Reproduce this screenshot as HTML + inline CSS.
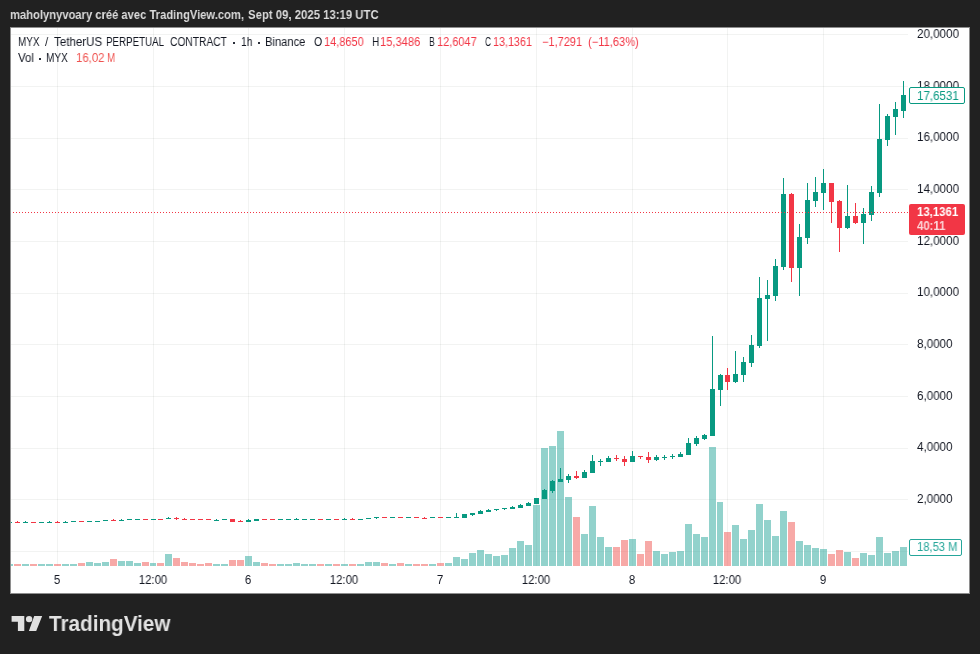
<!DOCTYPE html>
<html><head><meta charset="utf-8"><title>MYX chart</title>
<style>
html,body{margin:0;padding:0}
.hd,.pl,.tl,.lg,#pcur div,#plast div,#pvol div,#logot{will-change:transform}
body{width:980px;height:654px;background:#212121;position:relative;overflow:hidden;font-family:"Liberation Sans",sans-serif;}
.hd{position:absolute;height:16px;line-height:16px;font-size:13px;font-weight:bold;color:#dcdcdc;white-space:nowrap;transform-origin:0 50%;}
#card{position:absolute;left:10px;top:27px;width:960px;height:567px;background:#fff;overflow:hidden;box-sizing:border-box;border:1px solid #8e8e8e}
#chart{position:absolute;left:0;top:0}
.pl{transform:scaleX(0.968);transform-origin:0 50%;position:absolute;left:917px;width:60px;height:14px;line-height:14px;font-size:12px;color:#131722;white-space:nowrap}
.tl{transform:scaleX(0.95);position:absolute;top:573px;width:60px;text-align:center;height:14px;line-height:14px;font-size:12px;color:#131722;white-space:nowrap}
.lg{position:absolute;height:16px;line-height:16px;font-size:12px;color:#131722;white-space:nowrap;transform-origin:0 50%}
.dot{position:absolute;width:2px;height:2px;background:#2a2e39}
.r{color:#F23645}
.r2{color:#ef5350}
#pcur{position:absolute;left:909px;top:204px;width:56px;height:31px;background:#F23645;border-radius:2px;color:#fff;font-size:12px;font-weight:bold}
#pcur div{transform:scaleX(0.95);transform-origin:0 50%;position:absolute;left:8px;height:14px;line-height:14px;white-space:nowrap}
#plast{position:absolute;left:909px;top:87px;width:54px;height:15px;border:1px solid #089981;border-radius:2px;background:#fff;color:#089981;font-size:12px;line-height:15px}
#plast div{transform:scaleX(0.962);transform-origin:0 50%;position:absolute;left:7px;top:0.5px;white-space:nowrap}
#pvol{position:absolute;left:909px;top:539px;width:51px;height:15px;border:1px solid #26a69a;border-radius:2px;background:#fff;color:#26a69a;font-size:12px;line-height:15px}
#pvol div{transform:scaleX(0.935);transform-origin:0 50%;position:absolute;left:7px;top:0;white-space:nowrap}
#logo{position:absolute;left:0;top:0}
#logot{transform:scaleX(0.962);position:absolute;left:48.7px;top:611px;font-size:21.5px;font-weight:bold;color:#e2e2e2;line-height:26px;height:26px;white-space:nowrap;transform-origin:0 50%}
</style></head><body>
<div id="card"></div>
<svg id="chart" width="980" height="654" viewBox="0 0 980 654" shape-rendering="crispEdges">
<defs><clipPath id="cp"><rect x="11" y="28" width="897" height="538"/></clipPath></defs>
<g clip-path="url(#cp)">
<rect x="11" y="34" width="897" height="1" fill="rgba(40,56,52,0.062)"/>
<rect x="11" y="86" width="897" height="1" fill="rgba(40,56,52,0.062)"/>
<rect x="11" y="138" width="897" height="1" fill="rgba(40,56,52,0.062)"/>
<rect x="11" y="189" width="897" height="1" fill="rgba(40,56,52,0.062)"/>
<rect x="11" y="241" width="897" height="1" fill="rgba(40,56,52,0.062)"/>
<rect x="11" y="293" width="897" height="1" fill="rgba(40,56,52,0.062)"/>
<rect x="11" y="344" width="897" height="1" fill="rgba(40,56,52,0.062)"/>
<rect x="11" y="396" width="897" height="1" fill="rgba(40,56,52,0.062)"/>
<rect x="11" y="448" width="897" height="1" fill="rgba(40,56,52,0.062)"/>
<rect x="11" y="499" width="897" height="1" fill="rgba(40,56,52,0.062)"/>
<rect x="11" y="551" width="897" height="1" fill="rgba(40,56,52,0.062)"/>
<rect x="57" y="28" width="1" height="538" fill="rgba(40,56,52,0.062)"/>
<rect x="153" y="28" width="1" height="538" fill="rgba(40,56,52,0.062)"/>
<rect x="248" y="28" width="1" height="538" fill="rgba(40,56,52,0.062)"/>
<rect x="344" y="28" width="1" height="538" fill="rgba(40,56,52,0.062)"/>
<rect x="440" y="28" width="1" height="538" fill="rgba(40,56,52,0.062)"/>
<rect x="536" y="28" width="1" height="538" fill="rgba(40,56,52,0.062)"/>
<rect x="632" y="28" width="1" height="538" fill="rgba(40,56,52,0.062)"/>
<rect x="727" y="28" width="1" height="538" fill="rgba(40,56,52,0.062)"/>
<rect x="823" y="28" width="1" height="538" fill="rgba(40,56,52,0.062)"/>
<rect x="6" y="564" width="7" height="2" fill="rgba(38,166,154,0.5)"/>
<rect x="14" y="564" width="7" height="2" fill="rgba(239,83,80,0.5)"/>
<rect x="22" y="564" width="7" height="2" fill="rgba(38,166,154,0.5)"/>
<rect x="30" y="564" width="7" height="2" fill="rgba(239,83,80,0.5)"/>
<rect x="38" y="564" width="7" height="2" fill="rgba(38,166,154,0.5)"/>
<rect x="46" y="564" width="7" height="2" fill="rgba(38,166,154,0.5)"/>
<rect x="54" y="564" width="7" height="2" fill="rgba(239,83,80,0.5)"/>
<rect x="62" y="564" width="7" height="2" fill="rgba(38,166,154,0.5)"/>
<rect x="70" y="564" width="7" height="2" fill="rgba(38,166,154,0.5)"/>
<rect x="78" y="563" width="7" height="3" fill="rgba(239,83,80,0.5)"/>
<rect x="86" y="562" width="7" height="4" fill="rgba(38,166,154,0.5)"/>
<rect x="94" y="563" width="7" height="3" fill="rgba(38,166,154,0.5)"/>
<rect x="102" y="562" width="7" height="4" fill="rgba(38,166,154,0.5)"/>
<rect x="110" y="559" width="7" height="7" fill="rgba(239,83,80,0.5)"/>
<rect x="118" y="561" width="7" height="5" fill="rgba(38,166,154,0.5)"/>
<rect x="126" y="561" width="7" height="5" fill="rgba(38,166,154,0.5)"/>
<rect x="134" y="563" width="7" height="3" fill="rgba(38,166,154,0.5)"/>
<rect x="142" y="562" width="7" height="4" fill="rgba(239,83,80,0.5)"/>
<rect x="150" y="563" width="6" height="3" fill="rgba(38,166,154,0.5)"/>
<rect x="157" y="563" width="7" height="3" fill="rgba(239,83,80,0.5)"/>
<rect x="165" y="554" width="7" height="12" fill="rgba(38,166,154,0.5)"/>
<rect x="173" y="558" width="7" height="8" fill="rgba(239,83,80,0.5)"/>
<rect x="181" y="562" width="7" height="4" fill="rgba(239,83,80,0.5)"/>
<rect x="189" y="563" width="7" height="3" fill="rgba(239,83,80,0.5)"/>
<rect x="197" y="564" width="7" height="2" fill="rgba(239,83,80,0.5)"/>
<rect x="205" y="563" width="7" height="3" fill="rgba(239,83,80,0.5)"/>
<rect x="213" y="564" width="7" height="2" fill="rgba(38,166,154,0.5)"/>
<rect x="221" y="564" width="7" height="2" fill="rgba(38,166,154,0.5)"/>
<rect x="229" y="560" width="7" height="6" fill="rgba(239,83,80,0.5)"/>
<rect x="237" y="560" width="7" height="6" fill="rgba(239,83,80,0.5)"/>
<rect x="245" y="556" width="7" height="10" fill="rgba(38,166,154,0.5)"/>
<rect x="253" y="562" width="7" height="4" fill="rgba(38,166,154,0.5)"/>
<rect x="261" y="563" width="7" height="3" fill="rgba(239,83,80,0.5)"/>
<rect x="269" y="564" width="7" height="2" fill="rgba(239,83,80,0.5)"/>
<rect x="277" y="564" width="7" height="2" fill="rgba(38,166,154,0.5)"/>
<rect x="285" y="564" width="7" height="2" fill="rgba(38,166,154,0.5)"/>
<rect x="293" y="563" width="7" height="3" fill="rgba(38,166,154,0.5)"/>
<rect x="301" y="564" width="7" height="2" fill="rgba(38,166,154,0.5)"/>
<rect x="309" y="564" width="7" height="2" fill="rgba(38,166,154,0.5)"/>
<rect x="317" y="564" width="7" height="2" fill="rgba(239,83,80,0.5)"/>
<rect x="325" y="564" width="7" height="2" fill="rgba(38,166,154,0.5)"/>
<rect x="333" y="564" width="7" height="2" fill="rgba(239,83,80,0.5)"/>
<rect x="341" y="564" width="7" height="2" fill="rgba(38,166,154,0.5)"/>
<rect x="349" y="564" width="7" height="2" fill="rgba(239,83,80,0.5)"/>
<rect x="357" y="564" width="7" height="2" fill="rgba(38,166,154,0.5)"/>
<rect x="365" y="562" width="7" height="4" fill="rgba(38,166,154,0.5)"/>
<rect x="373" y="562" width="7" height="4" fill="rgba(38,166,154,0.5)"/>
<rect x="381" y="563" width="7" height="3" fill="rgba(239,83,80,0.5)"/>
<rect x="389" y="564" width="7" height="2" fill="rgba(38,166,154,0.5)"/>
<rect x="397" y="563" width="7" height="3" fill="rgba(239,83,80,0.5)"/>
<rect x="405" y="564" width="7" height="2" fill="rgba(38,166,154,0.5)"/>
<rect x="413" y="564" width="7" height="2" fill="rgba(239,83,80,0.5)"/>
<rect x="421" y="564" width="7" height="2" fill="rgba(239,83,80,0.5)"/>
<rect x="429" y="564" width="7" height="2" fill="rgba(38,166,154,0.5)"/>
<rect x="437" y="563" width="7" height="3" fill="rgba(239,83,80,0.5)"/>
<rect x="445" y="563" width="7" height="3" fill="rgba(38,166,154,0.5)"/>
<rect x="453" y="557" width="7" height="9" fill="rgba(38,166,154,0.5)"/>
<rect x="461" y="559" width="7" height="7" fill="rgba(38,166,154,0.5)"/>
<rect x="469" y="553" width="7" height="13" fill="rgba(38,166,154,0.5)"/>
<rect x="477" y="550" width="7" height="16" fill="rgba(38,166,154,0.5)"/>
<rect x="485" y="554" width="7" height="12" fill="rgba(38,166,154,0.5)"/>
<rect x="493" y="556" width="7" height="10" fill="rgba(38,166,154,0.5)"/>
<rect x="501" y="555" width="7" height="11" fill="rgba(38,166,154,0.5)"/>
<rect x="509" y="548" width="7" height="18" fill="rgba(38,166,154,0.5)"/>
<rect x="517" y="541" width="7" height="25" fill="rgba(38,166,154,0.5)"/>
<rect x="525" y="545" width="7" height="21" fill="rgba(38,166,154,0.5)"/>
<rect x="533" y="505" width="7" height="61" fill="rgba(38,166,154,0.5)"/>
<rect x="541" y="448" width="7" height="118" fill="rgba(38,166,154,0.5)"/>
<rect x="549" y="446" width="7" height="120" fill="rgba(38,166,154,0.5)"/>
<rect x="557" y="431" width="7" height="135" fill="rgba(38,166,154,0.5)"/>
<rect x="565" y="497" width="7" height="69" fill="rgba(38,166,154,0.5)"/>
<rect x="573" y="517" width="7" height="49" fill="rgba(239,83,80,0.5)"/>
<rect x="581" y="534" width="7" height="32" fill="rgba(38,166,154,0.5)"/>
<rect x="589" y="506" width="7" height="60" fill="rgba(38,166,154,0.5)"/>
<rect x="597" y="537" width="7" height="29" fill="rgba(38,166,154,0.5)"/>
<rect x="605" y="547" width="7" height="19" fill="rgba(38,166,154,0.5)"/>
<rect x="613" y="547" width="7" height="19" fill="rgba(239,83,80,0.5)"/>
<rect x="621" y="540" width="7" height="26" fill="rgba(239,83,80,0.5)"/>
<rect x="629" y="539" width="7" height="27" fill="rgba(38,166,154,0.5)"/>
<rect x="637" y="554" width="7" height="12" fill="rgba(239,83,80,0.5)"/>
<rect x="645" y="541" width="7" height="25" fill="rgba(239,83,80,0.5)"/>
<rect x="653" y="551" width="7" height="15" fill="rgba(38,166,154,0.5)"/>
<rect x="661" y="554" width="7" height="12" fill="rgba(38,166,154,0.5)"/>
<rect x="669" y="552" width="7" height="14" fill="rgba(38,166,154,0.5)"/>
<rect x="677" y="551" width="7" height="15" fill="rgba(38,166,154,0.5)"/>
<rect x="685" y="524" width="7" height="42" fill="rgba(38,166,154,0.5)"/>
<rect x="693" y="534" width="7" height="32" fill="rgba(38,166,154,0.5)"/>
<rect x="701" y="537" width="7" height="29" fill="rgba(38,166,154,0.5)"/>
<rect x="709" y="447" width="7" height="119" fill="rgba(38,166,154,0.5)"/>
<rect x="717" y="502" width="6" height="64" fill="rgba(38,166,154,0.5)"/>
<rect x="724" y="532" width="7" height="34" fill="rgba(239,83,80,0.5)"/>
<rect x="732" y="525" width="7" height="41" fill="rgba(38,166,154,0.5)"/>
<rect x="740" y="539" width="7" height="27" fill="rgba(38,166,154,0.5)"/>
<rect x="748" y="530" width="7" height="36" fill="rgba(38,166,154,0.5)"/>
<rect x="756" y="504" width="7" height="62" fill="rgba(38,166,154,0.5)"/>
<rect x="764" y="520" width="7" height="46" fill="rgba(38,166,154,0.5)"/>
<rect x="772" y="536" width="7" height="30" fill="rgba(38,166,154,0.5)"/>
<rect x="780" y="511" width="7" height="55" fill="rgba(38,166,154,0.5)"/>
<rect x="788" y="522" width="7" height="44" fill="rgba(239,83,80,0.5)"/>
<rect x="796" y="541" width="7" height="25" fill="rgba(38,166,154,0.5)"/>
<rect x="804" y="545" width="7" height="21" fill="rgba(38,166,154,0.5)"/>
<rect x="812" y="548" width="7" height="18" fill="rgba(38,166,154,0.5)"/>
<rect x="820" y="549" width="7" height="17" fill="rgba(38,166,154,0.5)"/>
<rect x="828" y="554" width="7" height="12" fill="rgba(239,83,80,0.5)"/>
<rect x="836" y="550" width="7" height="16" fill="rgba(239,83,80,0.5)"/>
<rect x="844" y="552" width="7" height="14" fill="rgba(38,166,154,0.5)"/>
<rect x="852" y="558" width="7" height="8" fill="rgba(239,83,80,0.5)"/>
<rect x="860" y="553" width="7" height="13" fill="rgba(38,166,154,0.5)"/>
<rect x="868" y="555" width="7" height="11" fill="rgba(38,166,154,0.5)"/>
<rect x="876" y="537" width="7" height="29" fill="rgba(38,166,154,0.5)"/>
<rect x="884" y="553" width="7" height="13" fill="rgba(38,166,154,0.5)"/>
<rect x="892" y="551" width="7" height="15" fill="rgba(38,166,154,0.5)"/>
<rect x="900" y="547" width="7" height="19" fill="rgba(38,166,154,0.5)"/>
<rect x="7" y="522" width="5" height="1" fill="#089981"/>
<rect x="17" y="521" width="1" height="2" fill="#F23645"/>
<rect x="15" y="522" width="5" height="1" fill="#F23645"/>
<rect x="25" y="521" width="1" height="2" fill="#089981"/>
<rect x="23" y="522" width="5" height="1" fill="#089981"/>
<rect x="31" y="522" width="5" height="1" fill="#F23645"/>
<rect x="39" y="522" width="5" height="1" fill="#089981"/>
<rect x="49" y="521" width="1" height="2" fill="#089981"/>
<rect x="47" y="522" width="5" height="1" fill="#089981"/>
<rect x="57" y="521" width="1" height="2" fill="#F23645"/>
<rect x="55" y="522" width="5" height="1" fill="#F23645"/>
<rect x="65" y="521" width="1" height="2" fill="#089981"/>
<rect x="63" y="522" width="5" height="1" fill="#089981"/>
<rect x="71" y="521" width="5" height="1" fill="#089981"/>
<rect x="79" y="521" width="5" height="1" fill="#F23645"/>
<rect x="87" y="521" width="5" height="1" fill="#089981"/>
<rect x="95" y="521" width="5" height="1" fill="#089981"/>
<rect x="103" y="520" width="5" height="1" fill="#089981"/>
<rect x="113" y="519" width="1" height="2" fill="#F23645"/>
<rect x="111" y="520" width="5" height="1" fill="#F23645"/>
<rect x="121" y="519" width="1" height="2" fill="#089981"/>
<rect x="119" y="520" width="5" height="1" fill="#089981"/>
<rect x="127" y="519" width="5" height="1" fill="#089981"/>
<rect x="135" y="519" width="5" height="1" fill="#089981"/>
<rect x="143" y="519" width="5" height="1" fill="#F23645"/>
<rect x="151" y="519" width="5" height="1" fill="#089981"/>
<rect x="158" y="519" width="5" height="1" fill="#F23645"/>
<rect x="168" y="517" width="1" height="2" fill="#089981"/>
<rect x="166" y="518" width="5" height="1" fill="#089981"/>
<rect x="176" y="517" width="1" height="3" fill="#F23645"/>
<rect x="174" y="518" width="5" height="1" fill="#F23645"/>
<rect x="184" y="518" width="1" height="2" fill="#F23645"/>
<rect x="182" y="519" width="5" height="1" fill="#F23645"/>
<rect x="190" y="519" width="5" height="1" fill="#F23645"/>
<rect x="198" y="519" width="5" height="1" fill="#F23645"/>
<rect x="206" y="519" width="5" height="1" fill="#F23645"/>
<rect x="216" y="519" width="1" height="2" fill="#089981"/>
<rect x="214" y="520" width="5" height="1" fill="#089981"/>
<rect x="222" y="519" width="5" height="1" fill="#089981"/>
<rect x="230" y="519" width="5" height="3" fill="#F23645"/>
<rect x="240" y="520" width="1" height="2" fill="#F23645"/>
<rect x="238" y="521" width="5" height="1" fill="#F23645"/>
<rect x="248" y="519" width="1" height="3" fill="#089981"/>
<rect x="246" y="520" width="5" height="2" fill="#089981"/>
<rect x="254" y="519" width="5" height="2" fill="#089981"/>
<rect x="262" y="519" width="5" height="1" fill="#F23645"/>
<rect x="270" y="519" width="5" height="1" fill="#F23645"/>
<rect x="278" y="519" width="5" height="1" fill="#089981"/>
<rect x="286" y="519" width="5" height="1" fill="#089981"/>
<rect x="296" y="518" width="1" height="2" fill="#089981"/>
<rect x="294" y="519" width="5" height="1" fill="#089981"/>
<rect x="302" y="519" width="5" height="1" fill="#089981"/>
<rect x="310" y="519" width="5" height="1" fill="#089981"/>
<rect x="318" y="519" width="5" height="1" fill="#F23645"/>
<rect x="326" y="519" width="5" height="1" fill="#089981"/>
<rect x="334" y="519" width="5" height="1" fill="#F23645"/>
<rect x="344" y="518" width="1" height="2" fill="#089981"/>
<rect x="342" y="519" width="5" height="1" fill="#089981"/>
<rect x="352" y="518" width="1" height="2" fill="#F23645"/>
<rect x="350" y="519" width="5" height="1" fill="#F23645"/>
<rect x="358" y="519" width="5" height="1" fill="#089981"/>
<rect x="366" y="518" width="5" height="1" fill="#089981"/>
<rect x="376" y="517" width="1" height="2" fill="#089981"/>
<rect x="374" y="517" width="5" height="1" fill="#089981"/>
<rect x="382" y="517" width="5" height="1" fill="#F23645"/>
<rect x="390" y="517" width="5" height="1" fill="#089981"/>
<rect x="398" y="517" width="5" height="1" fill="#F23645"/>
<rect x="406" y="517" width="5" height="1" fill="#089981"/>
<rect x="414" y="517" width="5" height="1" fill="#F23645"/>
<rect x="424" y="517" width="1" height="2" fill="#F23645"/>
<rect x="422" y="518" width="5" height="1" fill="#F23645"/>
<rect x="430" y="517" width="5" height="1" fill="#089981"/>
<rect x="438" y="517" width="5" height="1" fill="#F23645"/>
<rect x="446" y="517" width="5" height="1" fill="#089981"/>
<rect x="456" y="513" width="1" height="5" fill="#089981"/>
<rect x="454" y="517" width="5" height="1" fill="#089981"/>
<rect x="462" y="514" width="5" height="4" fill="#089981"/>
<rect x="472" y="513" width="1" height="3" fill="#089981"/>
<rect x="470" y="513" width="5" height="2" fill="#089981"/>
<rect x="480" y="510" width="1" height="4" fill="#089981"/>
<rect x="478" y="511" width="5" height="3" fill="#089981"/>
<rect x="488" y="509" width="1" height="3" fill="#089981"/>
<rect x="486" y="510" width="5" height="2" fill="#089981"/>
<rect x="496" y="509" width="1" height="2" fill="#089981"/>
<rect x="494" y="509" width="5" height="1" fill="#089981"/>
<rect x="504" y="508" width="1" height="2" fill="#089981"/>
<rect x="502" y="508" width="5" height="1" fill="#089981"/>
<rect x="512" y="506" width="1" height="3" fill="#089981"/>
<rect x="510" y="507" width="5" height="2" fill="#089981"/>
<rect x="520" y="504" width="1" height="4" fill="#089981"/>
<rect x="518" y="505" width="5" height="3" fill="#089981"/>
<rect x="528" y="502" width="1" height="4" fill="#089981"/>
<rect x="526" y="503" width="5" height="3" fill="#089981"/>
<rect x="534" y="498" width="5" height="6" fill="#089981"/>
<rect x="544" y="489" width="1" height="10" fill="#089981"/>
<rect x="542" y="490" width="5" height="9" fill="#089981"/>
<rect x="552" y="480" width="1" height="13" fill="#089981"/>
<rect x="550" y="481" width="5" height="10" fill="#089981"/>
<rect x="560" y="468" width="1" height="14" fill="#089981"/>
<rect x="558" y="479" width="5" height="3" fill="#089981"/>
<rect x="568" y="474" width="1" height="9" fill="#089981"/>
<rect x="566" y="476" width="5" height="4" fill="#089981"/>
<rect x="576" y="471" width="1" height="8" fill="#F23645"/>
<rect x="574" y="476" width="5" height="2" fill="#F23645"/>
<rect x="584" y="470" width="1" height="8" fill="#089981"/>
<rect x="582" y="472" width="5" height="6" fill="#089981"/>
<rect x="592" y="455" width="1" height="18" fill="#089981"/>
<rect x="590" y="461" width="5" height="12" fill="#089981"/>
<rect x="600" y="459" width="1" height="7" fill="#089981"/>
<rect x="598" y="461" width="5" height="1" fill="#089981"/>
<rect x="608" y="456" width="1" height="6" fill="#089981"/>
<rect x="606" y="458" width="5" height="4" fill="#089981"/>
<rect x="616" y="455" width="1" height="6" fill="#F23645"/>
<rect x="614" y="458" width="5" height="1" fill="#F23645"/>
<rect x="624" y="456" width="1" height="10" fill="#F23645"/>
<rect x="622" y="459" width="5" height="3" fill="#F23645"/>
<rect x="632" y="451" width="1" height="11" fill="#089981"/>
<rect x="630" y="456" width="5" height="6" fill="#089981"/>
<rect x="640" y="456" width="1" height="3" fill="#F23645"/>
<rect x="638" y="456" width="5" height="1" fill="#F23645"/>
<rect x="648" y="452" width="1" height="11" fill="#F23645"/>
<rect x="646" y="457" width="5" height="3" fill="#F23645"/>
<rect x="656" y="455" width="1" height="6" fill="#089981"/>
<rect x="654" y="457" width="5" height="3" fill="#089981"/>
<rect x="664" y="455" width="1" height="5" fill="#089981"/>
<rect x="662" y="457" width="5" height="1" fill="#089981"/>
<rect x="672" y="454" width="1" height="5" fill="#089981"/>
<rect x="670" y="456" width="5" height="1" fill="#089981"/>
<rect x="680" y="452" width="1" height="5" fill="#089981"/>
<rect x="678" y="454" width="5" height="3" fill="#089981"/>
<rect x="688" y="438" width="1" height="17" fill="#089981"/>
<rect x="686" y="443" width="5" height="12" fill="#089981"/>
<rect x="696" y="436" width="1" height="10" fill="#089981"/>
<rect x="694" y="438" width="5" height="6" fill="#089981"/>
<rect x="704" y="434" width="1" height="6" fill="#089981"/>
<rect x="702" y="435" width="5" height="4" fill="#089981"/>
<rect x="712" y="336" width="1" height="100" fill="#089981"/>
<rect x="710" y="389" width="5" height="47" fill="#089981"/>
<rect x="720" y="374" width="1" height="32" fill="#089981"/>
<rect x="718" y="375" width="5" height="15" fill="#089981"/>
<rect x="727" y="368" width="1" height="22" fill="#F23645"/>
<rect x="725" y="375" width="5" height="7" fill="#F23645"/>
<rect x="735" y="351" width="1" height="32" fill="#089981"/>
<rect x="733" y="374" width="5" height="8" fill="#089981"/>
<rect x="743" y="357" width="1" height="25" fill="#089981"/>
<rect x="741" y="362" width="5" height="13" fill="#089981"/>
<rect x="751" y="335" width="1" height="32" fill="#089981"/>
<rect x="749" y="345" width="5" height="18" fill="#089981"/>
<rect x="759" y="277" width="1" height="71" fill="#089981"/>
<rect x="757" y="298" width="5" height="48" fill="#089981"/>
<rect x="767" y="280" width="1" height="61" fill="#089981"/>
<rect x="765" y="295" width="5" height="4" fill="#089981"/>
<rect x="775" y="259" width="1" height="42" fill="#089981"/>
<rect x="773" y="266" width="5" height="30" fill="#089981"/>
<rect x="783" y="178" width="1" height="92" fill="#089981"/>
<rect x="781" y="194" width="5" height="73" fill="#089981"/>
<rect x="791" y="193" width="1" height="89" fill="#F23645"/>
<rect x="789" y="194" width="5" height="74" fill="#F23645"/>
<rect x="799" y="224" width="1" height="72" fill="#089981"/>
<rect x="797" y="237" width="5" height="31" fill="#089981"/>
<rect x="807" y="183" width="1" height="61" fill="#089981"/>
<rect x="805" y="200" width="5" height="38" fill="#089981"/>
<rect x="815" y="177" width="1" height="30" fill="#089981"/>
<rect x="813" y="192" width="5" height="9" fill="#089981"/>
<rect x="823" y="169" width="1" height="41" fill="#089981"/>
<rect x="821" y="183" width="5" height="10" fill="#089981"/>
<rect x="831" y="183" width="1" height="40" fill="#F23645"/>
<rect x="829" y="183" width="5" height="19" fill="#F23645"/>
<rect x="839" y="200" width="1" height="52" fill="#F23645"/>
<rect x="837" y="201" width="5" height="27" fill="#F23645"/>
<rect x="847" y="185" width="1" height="44" fill="#089981"/>
<rect x="845" y="216" width="5" height="12" fill="#089981"/>
<rect x="855" y="203" width="1" height="21" fill="#F23645"/>
<rect x="853" y="216" width="5" height="7" fill="#F23645"/>
<rect x="863" y="208" width="1" height="36" fill="#089981"/>
<rect x="861" y="214" width="5" height="9" fill="#089981"/>
<rect x="871" y="186" width="1" height="35" fill="#089981"/>
<rect x="869" y="192" width="5" height="23" fill="#089981"/>
<rect x="879" y="104" width="1" height="93" fill="#089981"/>
<rect x="877" y="139" width="5" height="54" fill="#089981"/>
<rect x="887" y="114" width="1" height="32" fill="#089981"/>
<rect x="885" y="116" width="5" height="24" fill="#089981"/>
<rect x="895" y="102" width="1" height="33" fill="#089981"/>
<rect x="893" y="109" width="5" height="8" fill="#089981"/>
<rect x="903" y="81" width="1" height="37" fill="#089981"/>
<rect x="901" y="95" width="5" height="16" fill="#089981"/>
<line x1="10" y1="212.5" x2="908" y2="212.5" stroke="#F23645" stroke-width="1" stroke-dasharray="1 2"/>
</g>
</svg>
<div class="pl" style="top:27px">20,0000</div><div class="pl" style="top:79px">18,0000</div><div class="pl" style="top:130px">16,0000</div><div class="pl" style="top:182px">14,0000</div><div class="pl" style="top:234px">12,0000</div><div class="pl" style="top:285px">10,0000</div><div class="pl" style="top:337px">8,0000</div><div class="pl" style="top:389px">6,0000</div><div class="pl" style="top:440px">4,0000</div><div class="pl" style="top:492px">2,0000</div>
<div class="tl" style="left:27px">5</div><div class="tl" style="left:123px">12:00</div><div class="tl" style="left:218px">6</div><div class="tl" style="left:314px">12:00</div><div class="tl" style="left:410px">7</div><div class="tl" style="left:506px">12:00</div><div class="tl" style="left:602px">8</div><div class="tl" style="left:697px">12:00</div><div class="tl" style="left:793px">9</div>
<div class="hd" id="h1" style="left:10.00px;top:7px;transform:scaleX(0.8614);">maholynyvoary créé avec TradingView.com,</div>
<div class="hd" id="h2" style="left:248.40px;top:7px;transform:scaleX(0.8736);">Sept 09, 2025 13:19 UTC</div>
<div class="lg" id="a1" style="left:18.30px;top:34px;transform:scaleX(0.8269);">MYX</div>
<div class="lg" id="a2" style="left:45.20px;top:34px;transform:scaleX(0.9250);">/</div>
<div class="lg" id="a3" style="left:53.60px;top:34px;transform:scaleX(0.9637);">TetherUS</div>
<div class="lg" id="a4" style="left:106.10px;top:34px;transform:scaleX(0.8119);">PERPETUAL</div>
<div class="lg" id="a5" style="left:170.40px;top:34px;transform:scaleX(0.8525);">CONTRACT</div>
<div class="lg" id="a6" style="left:241.20px;top:34px;transform:scaleX(0.8521);">1h</div>
<div class="lg" id="a7" style="left:264.90px;top:34px;transform:scaleX(0.9292);">Binance</div>
<div class="lg" id="o1" style="left:313.70px;top:34px;transform:scaleX(0.8778);">O</div>
<div class="lg r" id="o2" style="left:323.50px;top:34px;transform:scaleX(0.9153);">14,8650</div>
<div class="lg" id="o3" style="left:371.60px;top:34px;transform:scaleX(0.8250);">H</div>
<div class="lg r" id="o4" style="left:380.00px;top:34px;transform:scaleX(0.9290);">15,3486</div>
<div class="lg" id="o5" style="left:428.90px;top:34px;transform:scaleX(0.7375);">B</div>
<div class="lg r" id="o6" style="left:436.90px;top:34px;transform:scaleX(0.9153);">12,6047</div>
<div class="lg" id="o7" style="left:484.90px;top:34px;transform:scaleX(0.6889);">C</div>
<div class="lg r" id="o8" style="left:493.20px;top:34px;transform:scaleX(0.8970);">13,1361</div>
<div class="lg r" id="o9" style="left:541.60px;top:34px;transform:scaleX(0.9174);">−1,7291</div>
<div class="lg r" id="o10" style="left:587.60px;top:34px;transform:scaleX(0.9268);">(−11,63%)</div>
<div class="lg" id="b1" style="left:18.30px;top:50px;transform:scaleX(0.9553);">Vol</div>
<div class="lg" id="b2" style="left:46.10px;top:50px;transform:scaleX(0.8385);">MYX</div>
<div class="lg r2" id="b3" style="left:75.80px;top:50px;transform:scaleX(0.9488);">16,02</div>
<div class="lg r2" id="b4" style="left:106.70px;top:50px;transform:scaleX(0.8200);">M</div>
<div class="dot" style="left:233.0px;top:41.6px"></div>
<div class="dot" style="left:257.5px;top:41.6px"></div>
<div class="dot" style="left:39.0px;top:57.8px"></div>
<div id="plast"><div>17,6531</div></div>
<div id="pcur"><div style="top:1px">13,1361</div><div style="top:15px;opacity:.8">40:11</div></div>
<div id="pvol"><div>18,53 M</div></div>
<svg id="logo" width="980" height="654" viewBox="0 0 980 654"><path fill="#e0e0e0" d="M11.6 616H24.3V631H17.9V621.8H11.6Z M34.2 616H42.2L36.2 631H28.9Z"/><circle fill="#e0e0e0" cx="29.1" cy="619.1" r="3.2"/></svg>
<div id="logot">TradingView</div>
</body></html>
